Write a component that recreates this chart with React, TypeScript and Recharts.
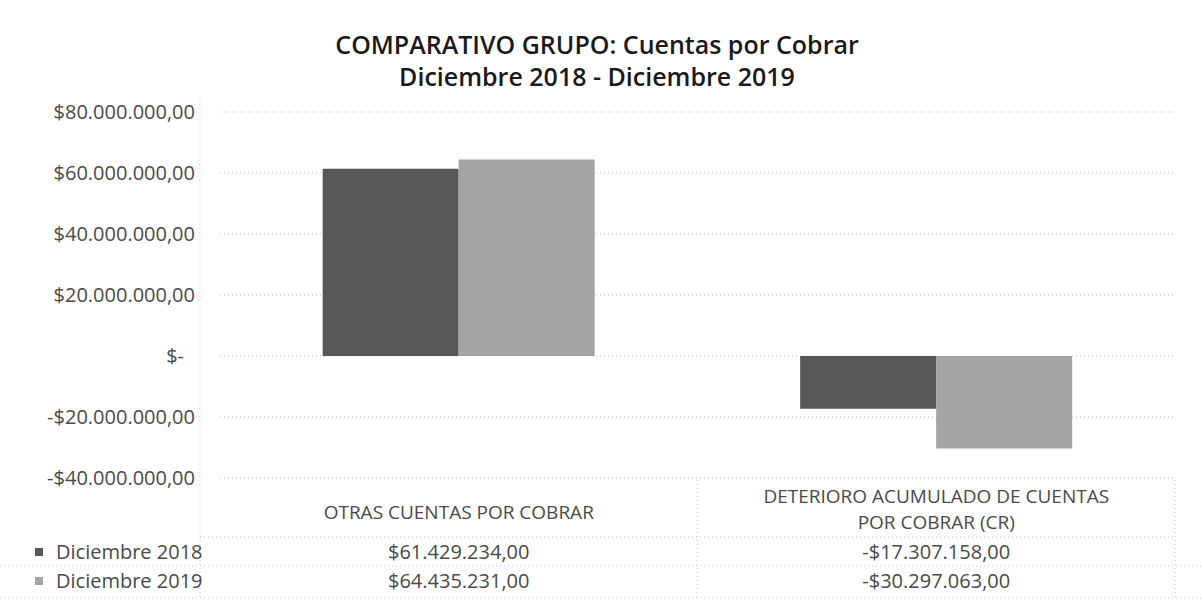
import React from 'react';
import { BarChart, Bar, XAxis, YAxis, CartesianGrid } from 'recharts';

const categories = ['OTRAS CUENTAS POR COBRAR', 'DETERIORO ACUMULADO DE CUENTAS POR COBRAR (CR)'];
const seriesNames = ['Diciembre 2018', 'Diciembre 2019'];
const dic2018 = [61429234, -17307158];
const dic2019 = [64435231, -30297063];
const yTicks = [-40000000, -20000000, 0, 20000000, 40000000, 60000000, 80000000];

const colors = ['#575757', '#a4a4a4'];
const FONT = '"Open Sans", "Noto Sans", sans-serif';
const TEXT = '#4a4a4a';

const data = categories.map((name, i) => ({ name, d2018: dic2018[i], d2019: dic2019[i] }));
const seriesValues = [dic2018, dic2019];

// $1.234.567,00 style
const money = (v: number) => {
  if (v === 0) return '$-';
  const abs = Math.abs(v);
  const int = Math.floor(abs).toString().replace(/\B(?=(\d{3})+(?!\d))/g, '.');
  return (v < 0 ? '-' : '') + '$' + int + ',00';
};

const wrap = (s: string, max: number) => {
  const words = s.split(' ');
  const lines: string[] = [];
  let cur = '';
  words.forEach(w => {
    const next = cur ? cur + ' ' + w : w;
    if (next.length > max && cur) {
      lines.push(cur);
      cur = w;
    } else cur = next;
  });
  if (cur) lines.push(cur);
  return lines;
};

const YTick = (props: any) => {
  const { y, payload } = props;
  const zero = payload.value === 0;
  return (
    <text x={zero ? 184 : 195} y={y} dy={7} textAnchor="end" fill={TEXT} fontSize={20} fontFamily={FONT}>
      {money(payload.value)}
    </text>
  );
};

// x axis ticks carry the data table below the plot
const TableTick = (props: any) => {
  const { x, payload } = props;
  const idx = categories.indexOf(payload.value);
  const lines = wrap(payload.value, 30);
  const headerCenter = lines.length > 1 ? 509 : 512;
  const startY = headerCenter - ((lines.length - 1) * 26) / 2;
  return (
    <g fontFamily={FONT} fill={TEXT}>
      {lines.map((l, i) => (
        <text key={i} x={x} y={startY + i * 26} dy={7} fontSize={19} textAnchor="middle">{l}</text>
      ))}
      {seriesValues.map((vals, r) => (
        <text key={'v' + r} x={x} y={552 + r * 29} dy={7} fontSize={20} textAnchor="middle">{money(vals[idx])}</text>
      ))}
    </g>
  );
};

export default function App() {
  return (
    <div style={{ position: 'absolute', left: 0, top: 0, width: 1201, height: 614, background: '#fff' }}>
      <div style={{ position: 'absolute', left: 0, top: 28, width: 1194, textAlign: 'center', fontFamily: FONT, fontWeight: 600, fontSize: 25, lineHeight: '32px', color: '#1a1a1a' }}>
        <div>COMPARATIVO GRUPO: Cuentas por Cobrar</div>
        <div>Diciembre 2018 - Diciembre 2019</div>
      </div>
      <BarChart width={1201} height={614} data={data} margin={{ top: 112, right: 26, left: 0, bottom: 0 }} barCategoryGap="21.5%" barGap={0}>
        <CartesianGrid vertical={false} stroke="#bdbdbd" strokeDasharray="1 3" />
        <YAxis width={220} domain={[-40000000, 80000000]} ticks={yTicks} axisLine={false} tickLine={false} tick={<YTick />} interval={0} />
        <XAxis dataKey="name" height={136} axisLine={false} tickLine={false} tick={<TableTick />} interval={0} />
        <Bar dataKey="d2018" name={seriesNames[0]} fill={colors[0]} isAnimationActive={false} />
        <Bar dataKey="d2019" name={seriesNames[1]} fill={colors[1]} isAnimationActive={false} />
      </BarChart>
      <svg width={1201} height={614} style={{ position: 'absolute', left: 0, top: 0, pointerEvents: 'none' }}>
        <g stroke="#c4c4c4" strokeDasharray="1 3" strokeWidth={1}>
          <line x1={200} y1={96} x2={200} y2={600} />
          <line x1={697} y1={480} x2={697} y2={600} />
          <line x1={1175} y1={480} x2={1175} y2={600} />
          <line x1={200} y1={537} x2={1175} y2={537} />
          <line x1={0} y1={566} x2={1201} y2={566} />
          <line x1={0} y1={598} x2={1201} y2={598} />
        </g>
        {seriesNames.map((n, i) => (
          <g key={n}>
            <rect x={35} y={548 + i * 29} width={8} height={8} fill={colors[i]} />
            <text x={56} y={552 + i * 29} dy={7} fontFamily={FONT} fontSize={20} fill={TEXT}>{n}</text>
          </g>
        ))}
      </svg>
    </div>
  );
}
